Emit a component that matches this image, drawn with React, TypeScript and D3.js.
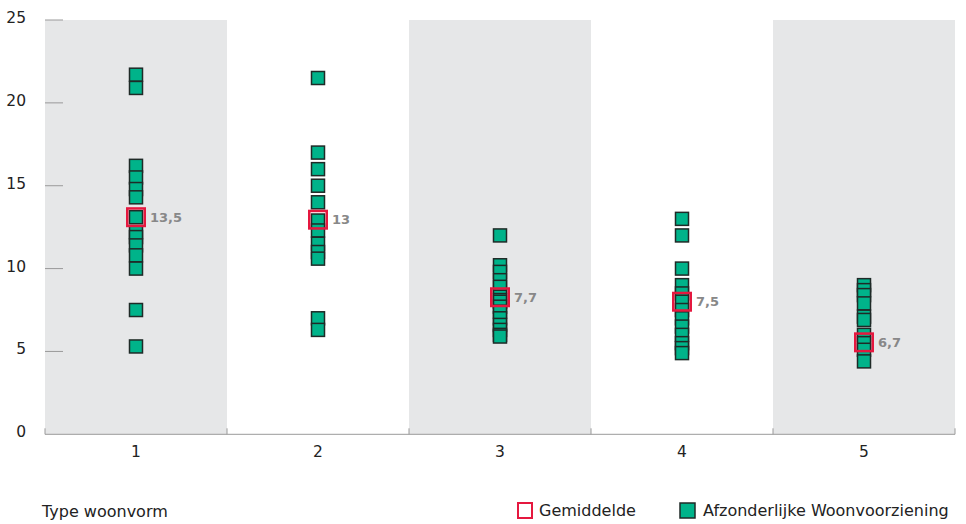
import React from "react";
import * as d3 from "d3";

const categories = ["1", "2", "3", "4", "5"];
const pointsByType: number[][] = [
  [21.7, 20.9, 16.2, 15.5, 14.8, 14.3, 13.1, 12.2, 11.9, 11.4, 10.8, 10.0, 7.5, 5.3],
  [21.5, 17.0, 16.0, 15.0, 14.0, 12.9, 12.3, 11.5, 11.0, 10.6, 7.0, 6.3],
  [12.0, 10.2, 9.8, 9.3, 8.9, 8.3, 8.1, 8.0, 7.7, 7.4, 7.0, 6.6, 6.3, 6.0, 5.9],
  [13.0, 12.0, 10.0, 9.0, 8.5, 8.0, 7.5, 7.0, 6.5, 6.0, 5.5, 5.2, 4.9],
  [9.0, 8.7, 8.4, 7.9, 7.1, 6.9, 6.0, 5.5, 5.1, 4.4],
];
const meanPositions = [13.1, 12.95, 8.27, 8.0, 5.55];
const meanLabels = ["13,5", "13", "7,7", "7,5", "6,7"];
const yTicks = [0, 5, 10, 15, 20, 25];
const xTitle = "Type woonvorm";
const legendMean = "Gemiddelde";
const legendPoint = "Afzonderlijke Woonvoorziening";

const FONT = "'DejaVu Sans', sans-serif";
const GREEN = "#00b38a";
const RED = "#e5183f";
const BAND = "#e6e7e8";

export default function App() {
  const W = 966, H = 524;
  const left = 45, right = 955, top = 20, bottom = 434.3;
  const x = d3.scaleBand<string>().domain(categories).range([left, right]).padding(0);
  const y = d3.scaleLinear().domain([0, 25]).range([bottom, top]);
  const bw = x.bandwidth();
  const sq = 13;
  const msq = 17.5;
  const boundaries = categories.map((c) => x(c) as number).concat([right]);

  return (
    <svg width={W} height={H} style={{ position: "absolute", left: 0, top: 0, fontFamily: FONT }}>
      <rect x={0} y={0} width={W} height={H} fill="#fff" />
      {categories.map((c, i) =>
        i % 2 === 0 ? (
          <rect key={c} x={x(c)} y={top} width={bw} height={bottom - top} fill={BAND} />
        ) : null
      )}
      {yTicks.map((t) => (
        <g key={t}>
          {t > 0 && (
            <line x1={left} x2={left + 18} y1={y(t)} y2={y(t)} stroke="#9a9a9a" strokeWidth={1} />
          )}
          <text
            x={26}
            y={y(t) - 2}
            textAnchor="end"
            dominantBaseline="central"
            fontSize={15.5}
            fill="#222"
          >
            {t}
          </text>
        </g>
      ))}
      <line x1={left} x2={right} y1={bottom} y2={bottom} stroke="#9a9a9a" strokeWidth={1} />
      {boundaries.map((b, i) => (
        <line key={i} x1={b} x2={b} y1={bottom} y2={bottom - 6} stroke="#9a9a9a" strokeWidth={1} />
      ))}
      {categories.map((c) => (
        <text
          key={c}
          x={(x(c) as number) + bw / 2}
          y={452}
          textAnchor="middle"
          dominantBaseline="central"
          fontSize={15.5}
          fill="#222"
        >
          {c}
        </text>
      ))}
      {categories.map((c, i) => {
        const cx = (x(c) as number) + bw / 2;
        return (
          <g key={c}>
            {pointsByType[i].map((v, j) => (
              <rect
                key={j}
                x={cx - sq / 2}
                y={y(v) - sq / 2}
                width={sq}
                height={sq}
                fill={GREEN}
                stroke="#1f2a27"
                strokeWidth={1.5}
              />
            ))}
            <rect
              x={cx - msq / 2}
              y={y(meanPositions[i]) - msq / 2}
              width={msq}
              height={msq}
              fill="none"
              stroke={RED}
              strokeWidth={2.5}
            />
            <text
              x={cx + 14}
              y={y(meanPositions[i])}
              dominantBaseline="central"
              fontSize={13}
              fontWeight="bold"
              fill="#888"
            >
              {meanLabels[i]}
            </text>
          </g>
        );
      })}
      <text x={42} y={511} dominantBaseline="central" fontSize={16} fill="#222">
        {xTitle}
      </text>
      <rect x={518} y={503} width={14} height={15} fill="#fff" stroke={RED} strokeWidth={2} />
      <text x={539} y={510} dominantBaseline="central" fontSize={16} fill="#222">
        {legendMean}
      </text>
      <rect x={680} y={503} width={15} height={15} fill={GREEN} stroke="#1f2a27" strokeWidth={1.5} />
      <text x={703} y={510} dominantBaseline="central" fontSize={16} fill="#222">
        {legendPoint}
      </text>
    </svg>
  );
}
